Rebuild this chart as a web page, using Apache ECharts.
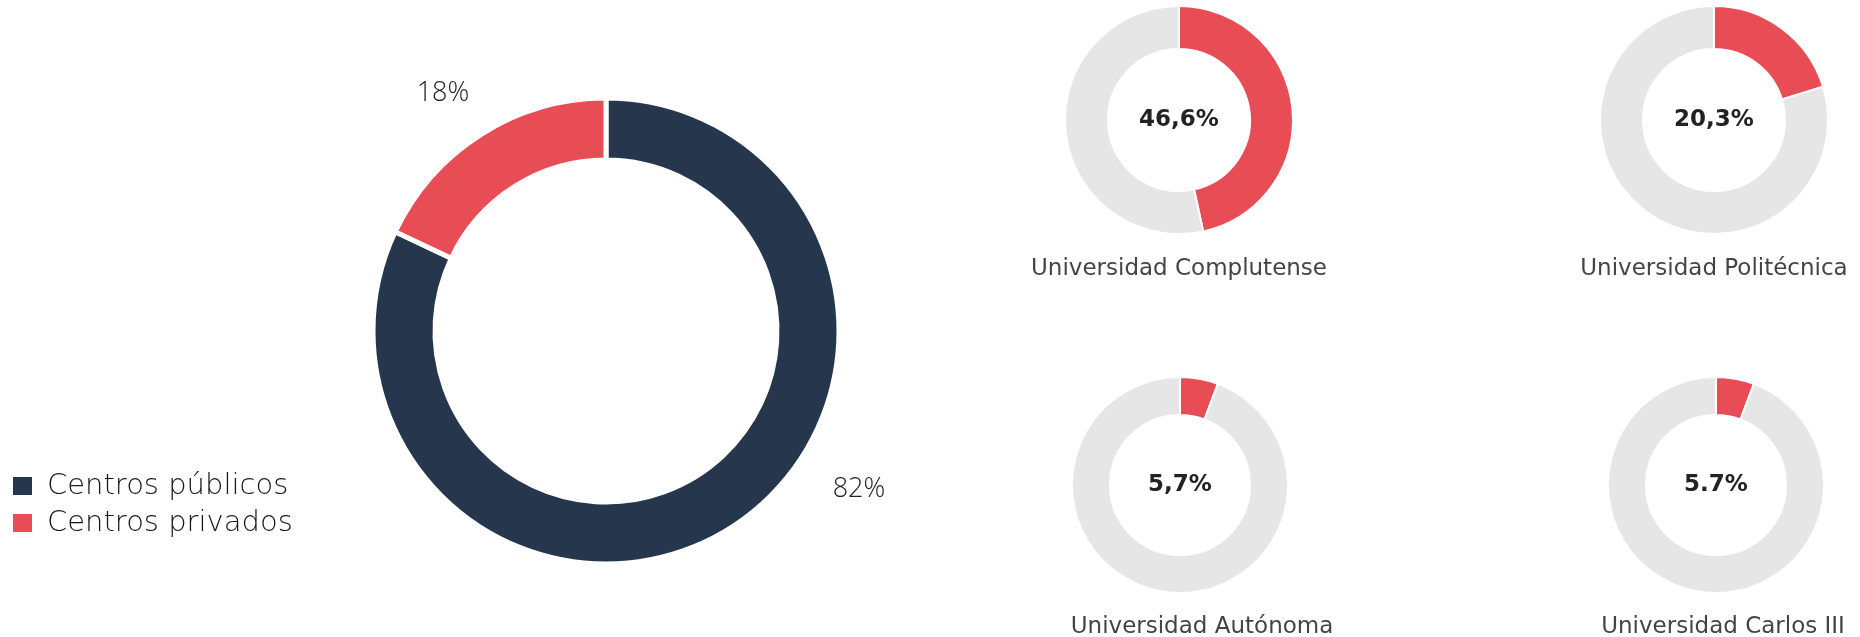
<!DOCTYPE html>
<html>
<head>
<meta charset="utf-8">
<script src="https://cdn.jsdelivr.net/npm/echarts@6/dist/echarts.min.js"></script>
<style>
  html, body { margin: 0; padding: 0; background: #fff; }
  #chart { width: 1860px; height: 637px; }
</style>
</head>
<body>
<div id="chart"></div>
<script>
// Centros públicos / privados
var centroNames = ['Centros públicos', 'Centros privados'];
var centroValues = [82, 18];
var centroLabels = ['82%', '18%'];

// universidades (cuota, %)
var uniNames = ['Universidad Complutense', 'Universidad Politécnica', 'Universidad Autónoma', 'Universidad Carlos III'];
var uniValues = [46.6, 20.3, 5.7, 5.7];
var uniLabels = ['46,6%', '20,3%', '5,7%', '5.7%'];

var navy = '#25364d';
var red = '#e84c55';
var grey = '#e6e6e6';
var numFont = 'Open Sans';
var txtFont = 'DejaVu Sans';

// donuts pequeños: centro, radios, posicion del titulo
var uniLayout = [
    { c: [1179, 120], r: [71, 114], tx: 1174, ty: 253 },
    { c: [1714, 120], r: [71, 114], tx: 1709, ty: 253 },
    { c: [1180, 485], r: [70, 108], tx: 1197, ty: 611 },
    { c: [1716, 485], r: [70, 108], tx: 1718, ty: 611 }
];

var myChart = echarts.init(document.getElementById('chart'));

var series = [{
    name: 'centros',
    type: 'pie',
    center: [606, 331],
    radius: [171, 233],
    startAngle: 90,
    clockwise: true,
    silent: true,
    itemStyle: { borderColor: '#fff', borderWidth: 5 },
    label: {
        show: true,
        position: 'outside',
        fontFamily: numFont,
        fontWeight: 300,
        fontSize: 27,
        color: '#222',
        formatter: function (p) { return centroLabels[p.dataIndex]; }
    },
    labelLine: { show: false },
    // etiquetas colocadas fuera del anillo como en el original
    labelLayout: function (p) {
        var pos = [[859, 489], [443, 93]];
        return { x: pos[p.dataIndex][0], y: pos[p.dataIndex][1], align: 'center', verticalAlign: 'middle' };
    },
    data: centroNames.map(function (n, i) {
        return { name: n, value: centroValues[i], itemStyle: { color: i === 0 ? navy : red } };
    })
}];

var titles = [];

for (var i = 0; i < uniNames.length; i++) {
    var lay = uniLayout[i];
    series.push({
        name: uniNames[i],
        type: 'pie',
        center: lay.c,
        radius: lay.r,
        startAngle: 90,
        silent: true,
        itemStyle: { borderColor: '#fff', borderWidth: 2 },
        labelLine: { show: false },
        data: [{
            name: uniNames[i],
            value: uniValues[i],
            itemStyle: { color: red },
            label: {
                show: true,
                position: 'center',
                formatter: uniLabels[i],
                fontFamily: txtFont,
                fontWeight: 700,
                fontSize: 23,
                color: '#222'
            }
        }, {
            name: 'resto',
            value: +(100 - uniValues[i]).toFixed(1),
            itemStyle: { color: grey },
            label: { show: false }
        }]
    });
    titles.push({
        text: uniNames[i],
        left: lay.tx,
        top: lay.ty,
        textAlign: 'center',
        textStyle: { fontFamily: txtFont, fontWeight: 400, fontSize: 23, color: '#444' }
    });
}

myChart.setOption({
    animation: false,
    title: titles,
    legend: {
        orient: 'vertical',
        left: 6,
        top: 466,
        icon: 'rect',
        itemWidth: 21,
        itemHeight: 20,
        itemGap: 7,
        data: centroNames,
        textStyle: { fontFamily: txtFont, fontWeight: 200, fontSize: 29, color: '#1a1a1a', lineHeight: 30, padding: [0, 0, 0, 9] }
    },
    series: series
});
</script>
</body>
</html>
